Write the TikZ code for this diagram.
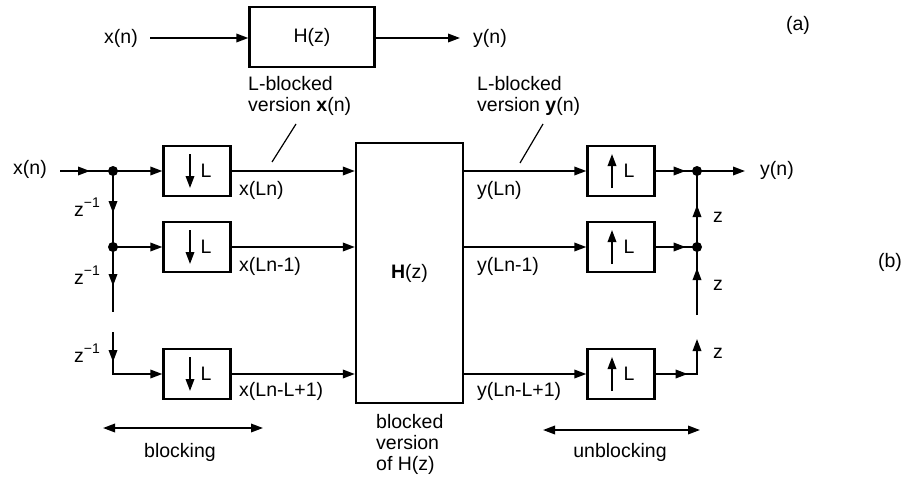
\documentclass[tikz,border=0pt]{standalone}
\usepackage{fontspec}
\setmainfont{Liberation Sans}
\usetikzlibrary{arrows.meta,decorations.markings}
\tikzset{
  tip/.tip={Triangle[length=12pt,width=8.5pt]},
  ln/.style={line width=1.8pt},
  arr/.style={ln,-tip},
  blk/.style={draw,line width=2.3pt,minimum width=67pt,minimum height=50pt,inner sep=0pt},
  txt/.style={font=\fontsize{19.5}{21}\selectfont,inner sep=1pt},
  midarr/.style={postaction={decorate},decoration={markings,mark=at position #1 with {\arrow{tip}}}},
  dot/.style={circle,fill,inner sep=0pt,minimum size=10pt},
}
\newcommand{\zinv}{z\raisebox{0.9ex}{\fontsize{14}{14}\selectfont −1}}
\begin{document}
\begin{tikzpicture}[x=1pt,y=-1pt]
\useasboundingbox (0,0) rectangle (904,479);
% ---------- (a)
\node[txt] (xa) at (121,38) {x(n)};
\node[blk,minimum width=125pt,minimum height=60pt] (Ha) at (312,37) {};
\node[txt] at (Ha) {H(z)};
\node[txt] (ya) at (490,38) {y(n)};
\coordinate (yae) at (460,38);
\coordinate (xas) at (150,38);
\draw[arr] (xas) -- (xas -| Ha.west);
\draw[arr] (yae -| Ha.east) -- (yae);
\node[txt] (la) at (798,25) {(a)};
% ---------- (b) labels
\node[txt,align=left,anchor=west] (lbx) at (247,96) {L-blocked\\version \textbf{x}(n)};
\node[txt,align=left,anchor=west] (lby) at (476,96) {L-blocked\\version \textbf{y}(n)};
\coordinate (s1a) at (272,162); \coordinate (s1b) at (296,124);
\coordinate (s2a) at (520,163); \coordinate (s2b) at (543,124);
\draw[line width=1.2pt] (s1a) -- (s1b);
\draw[line width=1.2pt] (s2a) -- (s2b);
\node[txt] (lb) at (890,262) {(b)};
% ---------- blocking side
\node[txt] (xb) at (30,169) {x(n)};
\coordinate (xbs) at (60,171);
\node[dot] (j1) at (113,171) {};
\node[dot] (j2) at (113,247) {};
\coordinate (v1) at (113,312);
\coordinate (v2) at (113,332);
\coordinate (v3) at (113,374);
\node[blk] (D1) at (197,171) {};
\node[blk] (D2) at (197,247) {};
\node[blk] (D3) at (197,374) {};
\foreach \b in {D1,D2,D3}{
  \draw[arr] ([xshift=-7pt,yshift=17pt]\b.center) -- ([xshift=-7pt,yshift=-17pt]\b.center);
  \node[txt] at ([xshift=9pt]\b.center) {L};
}
\draw[ln,midarr=30pt] (xbs) -- (j1.center);
\draw[arr] (j1.center) -- (D1.west);
\draw[arr] (j2.center) -- (D2.west);
\draw[ln,midarr=42pt] (j1.center) -- (j2.center);
\draw[ln,midarr=39pt] (j2.center) -- (v1);
\draw[arr,midarr=30pt] (v2) -- (v3) -- (D3.west);
\node[txt] at (87,207) {\zinv};
\node[txt] at (87,275) {\zinv};
\node[txt] at (87,353) {\zinv};
% ---------- H block
\node[blk,minimum width=107pt,minimum height=260pt] (H) at (409.5,273) {};
\node[txt] at (H) {\textbf{H}(z)};
\draw[arr] (D1.east) -- (D1.east -| H.west);
\draw[arr] (D2.east) -- (D2.east -| H.west);
\draw[arr] (D3.east) -- (D3.east -| H.west);
\node[txt,anchor=west] at (238,190) {x(Ln)};
\node[txt,anchor=west] at (238,266) {x(Ln-1)};
\node[txt,anchor=west] at (238,391) {x(Ln-L+1)};
\node[txt,align=left,anchor=north west] at (375,413) {blocked\\version\\of H(z)};
% ---------- unblocking side
\node[blk] (U1) at (621,171) {};
\node[blk] (U2) at (621,247) {};
\node[blk] (U3) at (621,374) {};
\foreach \b in {U1,U2,U3}{
  \draw[arr] ([xshift=-9pt,yshift=-17pt]\b.center) -- ([xshift=-9pt,yshift=17pt]\b.center);
  \node[txt] at ([xshift=8pt]\b.center) {L};
}
\draw[arr] (H.east |- U1.west) -- (U1.west);
\draw[arr] (H.east |- U2.west) -- (U2.west);
\draw[arr] (H.east |- U3.west) -- (U3.west);
\node[txt,anchor=west] at (476,190) {y(Ln)};
\node[txt,anchor=west] at (476,266) {y(Ln-1)};
\node[txt,anchor=west] at (476,391) {y(Ln-L+1)};
\node[dot] (r1) at (697,171) {};
\node[dot] (r2) at (697,247) {};
\coordinate (rb) at (697,315);
\coordinate (rc) at (697,374);
\coordinate (rt) at (697,339);
\coordinate (yo) at (745,171);
\node[txt] (yb) at (777,170) {y(n)};
\draw[ln,midarr=30pt] (U1.east) -- (r1.center);
\draw[ln,midarr=30pt] (U2.east) -- (r2.center);
\draw[arr] (r1.center) -- (yo);
\draw[ln,midarr=47pt] (rb) -- (r2.center);
\draw[ln,midarr=42pt] (r2.center) -- (r1.center);
\draw[arr,midarr=32pt] (U3.east) -- (rc) -- (rt);
\node[txt] at (718,217) {z};
\node[txt] at (718,285) {z};
\node[txt] at (718,353) {z};
% ---------- range arrows
\coordinate (b1) at (103,428); \coordinate (b2) at (263,428);
\draw[ln,tip-tip] (b1) -- (b2);
\node[txt] at (180,452) {blocking};
\coordinate (u1) at (543,430); \coordinate (u2) at (700,430);
\draw[ln,tip-tip] (u1) -- (u2);
\node[txt] at (620,452) {unblocking};
\end{tikzpicture}
\end{document}
